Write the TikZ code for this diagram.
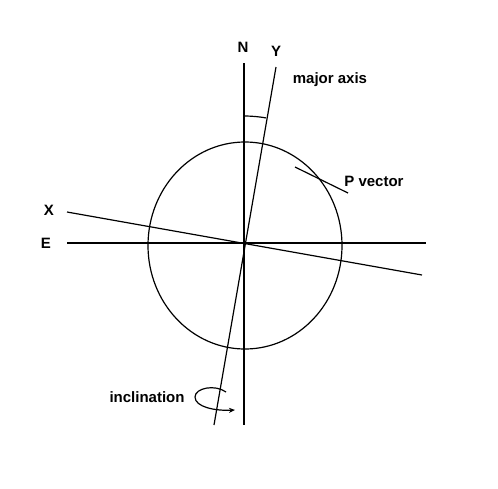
\documentclass[tikz,border=0pt]{standalone}
\usepackage{fontspec}
\setmainfont{Liberation Sans}
\usetikzlibrary{arrows.meta}

\tikzset{lbl/.style={font=\fontsize{15}{18}\selectfont\bfseries,inner sep=0pt}}

\begin{document}
\begin{tikzpicture}[x=1pt,y=-1pt,line width=1.2pt]
  \useasboundingbox (0,0) rectangle (498,488);
  % axes
  \coordinate (ntop) at (244,63);
  \coordinate (nbot) at (244,425);
  \coordinate (ytop) at (276,67);
  \coordinate (ybot) at (214,425);
  \coordinate (xleft) at (67,212);
  \coordinate (xright) at (422,275);
  \coordinate (eleft) at (67,243);
  \coordinate (eright) at (426,243);
  \draw (ntop) -- (nbot);
  \draw (ytop) -- (ybot);
  \draw (xleft) -- (xright);
  \draw (eleft) -- (eright);
  % sky circle
  \draw (245,245.5) ellipse [x radius=97, y radius=103.5];
  % angle between N and Y
  \draw (244,116) arc[start angle=-90, end angle=-80, radius=127];
  % P vector
  \coordinate (pa) at (295,167);
  \coordinate (pb) at (348,193);
  \draw (pa) -- (pb);
  % inclination rotation
  \draw[-{Stealth[length=6pt,width=5pt]}] (226,392) .. controls (215,384) and (195,388) .. (195,397)
    .. controls (195,407) and (215,411) .. (235,410);
  % labels
  \node[lbl] (n) at (243,47) {N};
  \node[lbl] (y) at (276,51) {Y};
  \node[lbl] (major) at (330,80) {major axis};
  \node[lbl] (pvec) at (374,181) {P vector};
  \node[lbl] (x) at (49,210) {X};
  \node[lbl] (e) at (46,243) {E};
  \node[lbl] (incl) at (147,397) {inclination};
\end{tikzpicture}
\end{document}
